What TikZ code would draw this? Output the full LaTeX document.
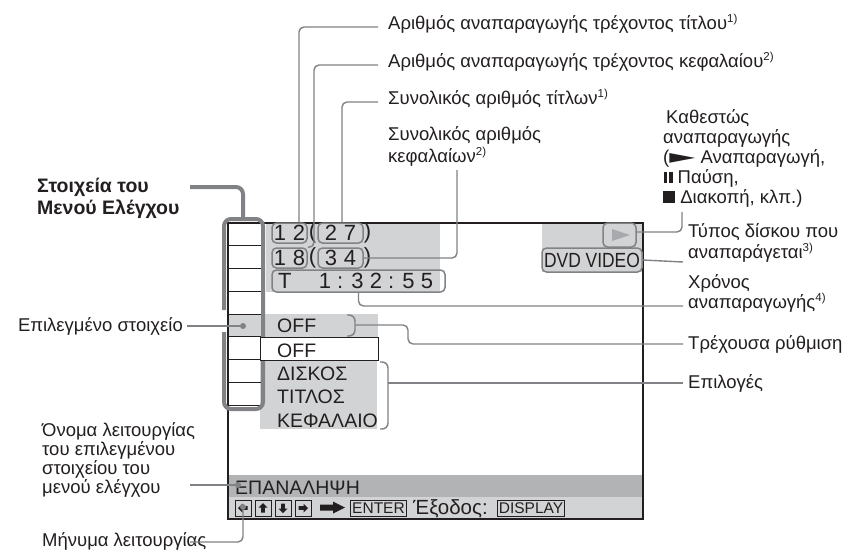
\documentclass[tikz,border=0pt]{standalone}
\usepackage{fontspec}
\usepackage{graphicx}
\setmainfont{Liberation Sans}
\newfontfamily\symfont{DejaVu Sans}
\definecolor{ink}{HTML}{231F20}
\definecolor{scr}{HTML}{D2D3D4}
\definecolor{bar}{HTML}{B2B3B5}
\definecolor{lead}{HTML}{808285}
\definecolor{frame}{HTML}{808285}
\definecolor{tri}{HTML}{A7A9AC}
\newcommand\fnote[1]{\raisebox{6.5pt}{\fontsize{11.5}{11.5}\selectfont #1)}}
\newcommand\lsize{\fontsize{18.5}{20}\selectfont}
\newcommand\pausesym{\rule{3.2pt}{11pt}\hspace{2pt}\rule{3.2pt}{11pt}}
\newcommand\stopsym{\rule{12pt}{12pt}}
\newcommand\playsym{\resizebox{26pt}{10pt}{\symfont ►}}
\newcommand\dg{\hspace{7pt}}
\begin{document}
\begin{tikzpicture}[x=1pt,y=-1pt,
  lbl/.style={font=\lsize, text=ink, inner sep=0pt, anchor=base west},
  leader/.style={draw=lead, line width=1.4pt, rounded corners=5pt},
  pill/.style={draw=lead, line width=1.5pt, rounded corners=4.5pt, inner sep=0pt, text=ink, font=\fontsize{22}{22}\selectfont},
  scrtxt/.style={font=\fontsize{19.5}{20}\selectfont, text=ink, inner sep=0pt, anchor=base west},
  keybox/.style={draw=ink, line width=0.8pt, minimum width=16pt, minimum height=16pt, inner sep=0pt},
  tagbox/.style={draw=ink, line width=0.8pt, inner xsep=1.5pt, inner ysep=0pt, minimum height=16pt, text=ink, font=\fontsize{15.5}{15.5}\selectfont},
  gdot/.style={circle, fill=lead, inner sep=0pt, minimum size=6pt},
  thick frame/.style={draw=frame, line width=4pt, rounded corners=7pt}]

\useasboundingbox (0,0) rectangle (847,552);
\fill[white] (0,0) rectangle (847,552);

% ---- screen fills
\fill[scr] (266,223) rectangle (440,292);
\fill[scr] (542,223) rectangle (643,272);
\fill[scr] (228,314) rectangle (378,337);
\fill[scr] (260,360) rectangle (377,429);
\fill[bar] (228,475) rectangle (643,497);
\fill[scr] (228,497) rectangle (643,519);
\node[draw=ink, line width=1.3pt, minimum width=415pt, minimum height=296pt, inner sep=0pt] (screen) at (435.5,371) {};

% ---- menu cells
\foreach \i in {0,...,7}
  \draw[ink, line width=0.9pt] (227,{223+22.75*\i}) rectangle (261,{223+22.75*(\i+1)});
\draw[thick frame] (224,310) -- (224,219) -- (263,219) -- (263,409) -- (224,409) -- (224,332);
\draw[thick frame] (190,187) -- (243,187) -- (243,219);

% ---- numbers
\node[pill, minimum width=35pt, minimum height=20pt] (n12) at (289.5,233) {1\dg2};
\node[pill, minimum width=45pt, minimum height=20pt] (n27) at (340.5,233) {2\dg7};
\node[pill, minimum width=35pt, minimum height=20pt] (n18) at (289.5,258) {1\dg8};
\node[pill, minimum width=45pt, minimum height=20pt] (n34) at (340.5,258) {3\dg4};
\node[text=ink, inner sep=0pt, font=\fontsize{22}{22}\selectfont] (lp1) at (312.5,233) {(};
\node[text=ink, inner sep=0pt, font=\fontsize{22}{22}\selectfont] (rp1) at (367.5,233) {)};
\node[text=ink, inner sep=0pt, font=\fontsize{22}{22}\selectfont] (lp2) at (312.5,258) {(};
\node[text=ink, inner sep=0pt, font=\fontsize{22}{22}\selectfont] (rp2) at (367.5,258) {)};
\node[pill, minimum width=173pt, minimum height=22pt] (tbox) at (358.5,281) {\makebox[161pt]{T\hfill 1 : 3 2 : 5 5\hspace{6pt}}};

% ---- status / disc type
\node[pill, minimum width=33pt, minimum height=24pt] (play) at (619.5,235) {};
\fill[tri] (612,229) -- (630,235) -- (612,241) -- cycle;
\node[pill, fill=scr, minimum width=100pt, minimum height=24pt, font=\fontsize{20.5}{20.5}\selectfont] (dvd) at (592,260) {\scalebox{0.85}[1]{DVD VIDEO}};

% ---- setting / options
\node[draw=ink, fill=white, line width=1pt, minimum width=118pt, minimum height=23pt, inner sep=0pt] (optbox) at (319,348.5) {};
\node[scrtxt] (cur) at (277,332) {OFF};
\node[scrtxt] (op1) at (277,357) {OFF};
\node[scrtxt] (op2) at (277,380) {ΔΙΣΚΟΣ};
\node[scrtxt] (op3) at (277,403) {ΤΙΤΛΟΣ};
\node[scrtxt] (op4) at (277,427) {ΚΕΦΑΛΑΙΟ};

% ---- bottom bars
\node[scrtxt] (rep) at (235,494) {ΕΠΑΝΑΛΗΨΗ};
\node[keybox] (k1) at (243,508) {};
\node[keybox] (k2) at (263,508) {};
\node[keybox] (k3) at (283,508) {};
\node[keybox] (k4) at (303,508) {};
\fill[ink, shift={(k1.center)}] (-5,0) -- (-0.5,-4.5) -- (-0.5,-1.8) -- (4.5,-1.8) -- (4.5,1.8) -- (-0.5,1.8) -- (-0.5,4.5) -- cycle;
\fill[ink, shift={(k2.center)}] (0,-5) -- (-4.5,-0.5) -- (-1.8,-0.5) -- (-1.8,4.5) -- (1.8,4.5) -- (1.8,-0.5) -- (4.5,-0.5) -- cycle;
\fill[ink, shift={(k3.center)}] (0,5) -- (-4.5,0.5) -- (-1.8,0.5) -- (-1.8,-4.5) -- (1.8,-4.5) -- (1.8,0.5) -- (4.5,0.5) -- cycle;
\fill[ink, shift={(k4.center)}] (5,0) -- (0.5,-4.5) -- (0.5,-1.8) -- (-4.5,-1.8) -- (-4.5,1.8) -- (0.5,1.8) -- (0.5,4.5) -- cycle;
\fill[ink] (320,504.5) -- (333,504.5) -- (333,501.5) -- (345,507.5) -- (333,513.5) -- (333,510.5) -- (320,510.5) -- cycle;
\node[tagbox] (enter) at (378.5,508) {ENTER};
\node[lbl, font=\fontsize{20.5}{20.5}\selectfont] (exit) at (413,514) {Έξοδος:};
\node[tagbox] (disp) at (531,508) {DISPLAY};

% ---- labels top
\node[lbl] (t1) at (388,29) {Αριθμός αναπαραγωγής τρέχοντος τίτλου\fnote{1}};
\node[lbl] (t2) at (388,67) {Αριθμός αναπαραγωγής τρέχοντος κεφαλαίου\fnote{2}};
\node[lbl] (t3) at (388,104) {Συνολικός αριθμός τίτλων\fnote{1}};
\node[lbl] (t4a) at (388,140) {Συνολικός αριθμός};
\node[lbl] (t4b) at (388,162) {κεφαλαίων\fnote{2}};

% ---- labels right
\node[lbl] (s1) at (666,123) {Καθεστώς};
\node[lbl] (s2) at (663,143) {αναπαραγωγής};
\node[lbl] (s3) at (663,163) {(\playsym\ Αναπαραγωγή,};
\node[lbl] (s4) at (664,183) {\pausesym\ Παύση,};
\node[lbl] (s5) at (663,203) {\stopsym\ Διακοπή, κλπ.)};
\node[lbl] (d1) at (688,237) {Τύπος δίσκου που};
\node[lbl] (d2) at (688,258) {αναπαράγεται\fnote{3}};
\node[lbl] (c1) at (688,288) {Χρόνος};
\node[lbl] (c2) at (688,308) {αναπαραγωγής\fnote{4}};
\node[lbl] (r1) at (688,349) {Τρέχουσα ρύθμιση};
\node[lbl] (o1) at (688,388) {Επιλογές};

% ---- labels left
\node[lbl, font=\fontsize{19.5}{20}\selectfont\bfseries] (m1) at (37,192) {Στοιχεία του};
\node[lbl, font=\fontsize{19.5}{20}\selectfont\bfseries] (m2) at (37,214) {Μενού Ελέγχου};
\node[lbl, anchor=base east] (sel) at (183,331) {Επιλεγμένο στοιχείο};
\node[lbl] (f1) at (42,436) {Όνομα λειτουργίας};
\node[lbl] (f2) at (42,455) {του επιλεγμένου};
\node[lbl] (f3) at (42,474) {στοιχείου του};
\node[lbl] (f4) at (42,493) {μενού ελέγχου};
\node[lbl] (msg) at (42,546) {Μήνυμα λειτουργίας};

% ---- leader end points
\coordinate (e1) at (378,27);
\coordinate (e2) at (378,65);
\coordinate (e3) at (378,102);
\coordinate (e4) at (457,170);
\coordinate (e5) at (683,306);
\coordinate (e6) at (683,344);
\coordinate (e7) at (683,383);
\coordinate (e8) at (187,326);
\coordinate (e9) at (190,485);
\coordinate (e10) at (190,542);
\coordinate (e11) at (682,212);
\coordinate (e12) at (683,262);
\coordinate (curb) at (355,325);
\coordinate (optb) at (388,383);

\node[gdot] (seldot) at (243,326) {};
\node[gdot] (namedot) at (238,485) {};
\node[gdot] (msgdot) at (243,507) {};

% ---- leaders
\draw[leader] ([xshift=9.5pt]n12.north) |- (e1);
\draw[leader] (n18.north east) -| (314,65) -- (e2);
\draw[leader] ([xshift=1.5pt]n27.north) |- (e3);
\draw[leader] (n34.east) -| (e4);
\draw[leader] (tbox.south) |- (e5);
\draw[leader, rounded corners=6pt] (347,315) -- (355,315) -- (355,336) -- (347,336);
\draw[leader] (curb) -- (408,325) -- (408,344) -- (e6);
\draw[leader, rounded corners=6pt] (380,362) -- (388,362) -- (388,429) -- (380,429);
\draw[leader] (optb) -- (e7);
\draw[leader] (e8) -- (seldot);
\draw[leader] (e9) -- (namedot);
\draw[leader] (e10) -| (msgdot);
\draw[leader] (e11) |- ([yshift=3pt]play.east);
\draw[leader] (dvd.east) -- (e12);
\end{tikzpicture}
\end{document}
